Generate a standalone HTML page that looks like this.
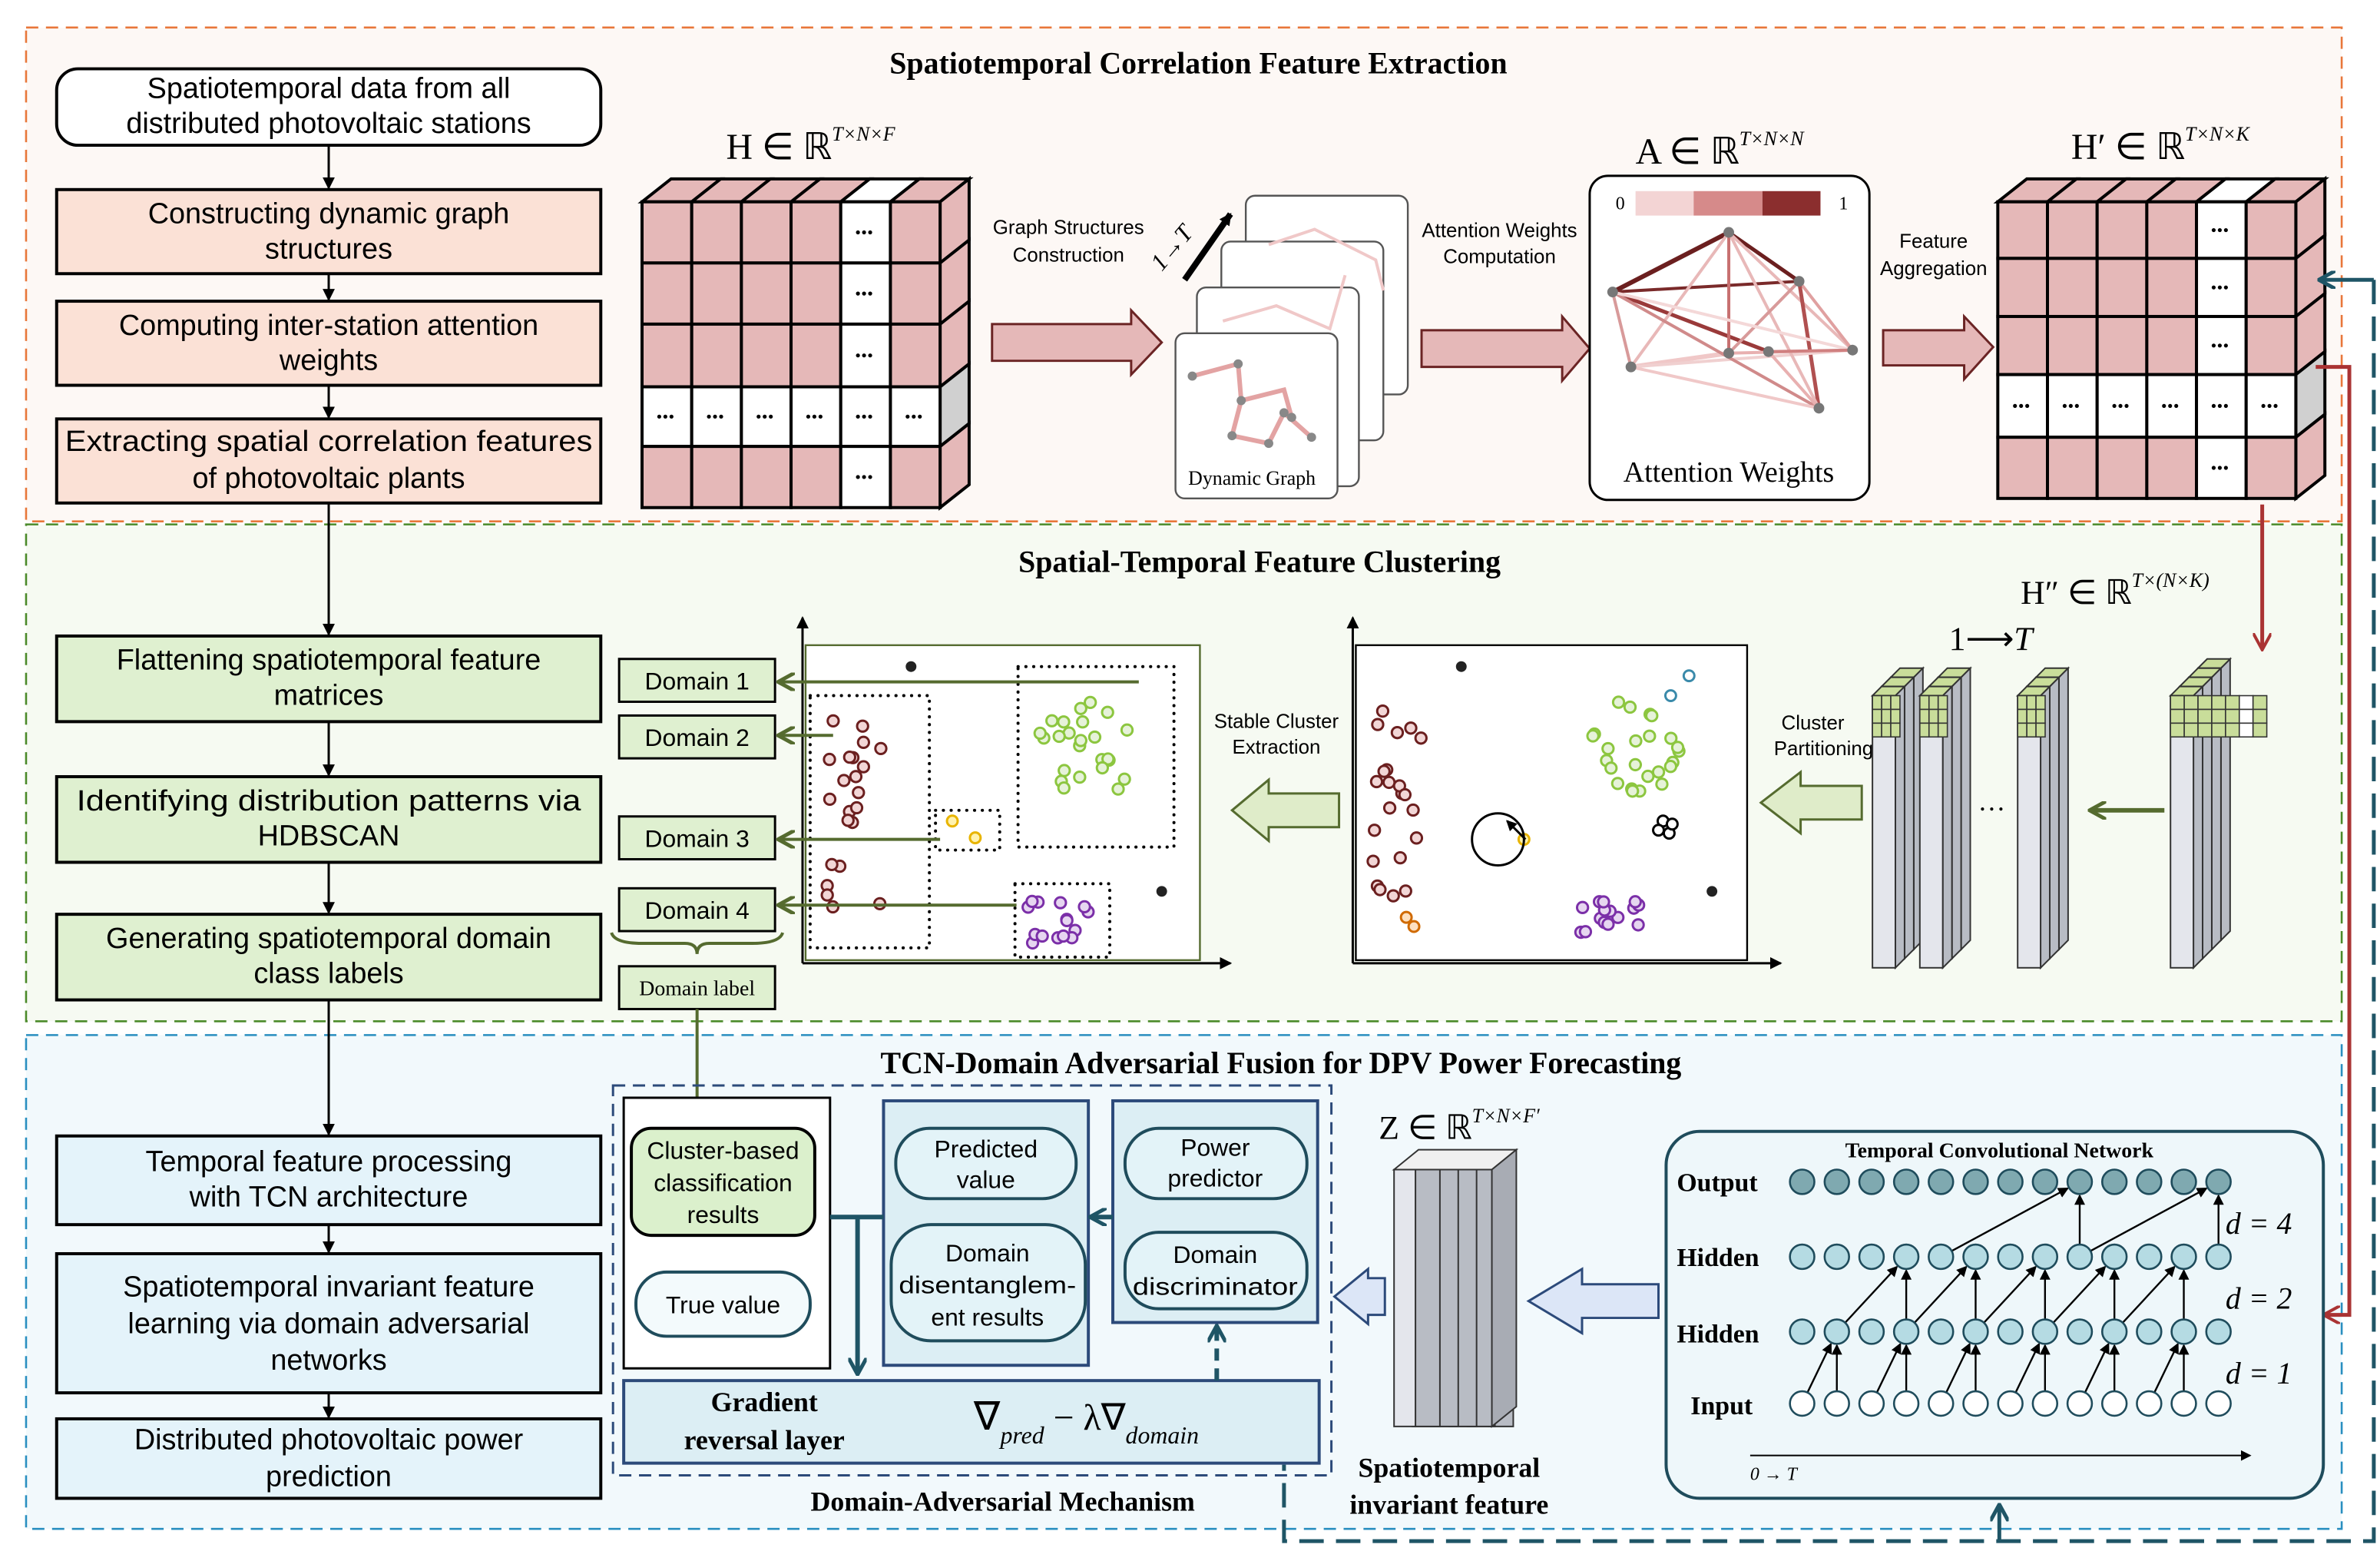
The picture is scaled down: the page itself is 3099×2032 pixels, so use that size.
<!DOCTYPE html>
<html><head><meta charset="utf-8"><style>
html,body{margin:0;padding:0;background:#fff}
svg{display:block}
.t{font-family:"Liberation Sans",sans-serif;fill:#000}
.s{font-family:"Liberation Serif",serif;fill:#000}
</style></head><body>
<svg id="sv" width="3099" height="2032" viewBox="0 0 1557 1021" xmlns="http://www.w3.org/2000/svg">
<defs>
<marker id="ah" markerWidth="8" markerHeight="8" refX="7" refY="4" orient="auto" markerUnits="userSpaceOnUse"><path d="M0,0 L8,4 L0,8 z" fill="#000"/></marker>
<marker id="ahr" markerWidth="12" markerHeight="12" refX="10" refY="6" orient="auto" markerUnits="userSpaceOnUse"><path d="M0,0 L11,6 L0,12" fill="none" stroke="#a33" stroke-width="2"/></marker>
<marker id="aht" markerWidth="12" markerHeight="12" refX="10" refY="6" orient="auto" markerUnits="userSpaceOnUse"><path d="M0,0 L11,6 L0,12" fill="none" stroke="#1f5566" stroke-width="2.5"/></marker>
<marker id="ahg" markerWidth="12" markerHeight="12" refX="10" refY="6" orient="auto" markerUnits="userSpaceOnUse"><path d="M0,0 L11,6 L0,12" fill="none" stroke="#556b2f" stroke-width="2.5"/></marker>
<marker id="ahs" markerWidth="7" markerHeight="7" refX="6" refY="3.5" orient="auto" markerUnits="userSpaceOnUse"><path d="M0,0 L7,3.5 L0,7 z" fill="#000"/></marker>
</defs>
<!-- panels -->
<rect x="17" y="18" width="1515" height="323" fill="#fdf8f5" stroke="#e8773a" stroke-width="1.3" stroke-dasharray="8,5"/>
<rect x="17" y="343" width="1515" height="325" fill="#f6faf2" stroke="#4b8a2a" stroke-width="1.3" stroke-dasharray="8,5"/>
<rect x="17" y="677" width="1515" height="323" fill="#f2f9fc" stroke="#2a8fc0" stroke-width="1.3" stroke-dasharray="8,5"/>
<text class="s" x="784" y="48" font-size="20" font-weight="bold" text-anchor="middle">Spatiotemporal Correlation Feature Extraction</text>
<text class="s" x="824" y="374" font-size="20" font-weight="bold" text-anchor="middle">Spatial-Temporal Feature Clustering</text>
<text class="s" x="838" y="702" font-size="20" font-weight="bold" text-anchor="middle">TCN-Domain Adversarial Fusion for DPV Power Forecasting</text>

<!-- left flow -->
<g stroke="#000" stroke-width="2">
<rect x="37" y="45" width="356" height="50" rx="14" fill="#fff"/>
<rect x="37" y="124" width="356" height="55" fill="#fbe1d6"/>
<rect x="37" y="197" width="356" height="55" fill="#fbe1d6"/>
<rect x="37" y="274" width="356" height="55" fill="#fbe1d6"/>
<rect x="37" y="416" width="356" height="56" fill="#dff0d0"/>
<rect x="37" y="508" width="356" height="56" fill="#dff0d0"/>
<rect x="37" y="598" width="356" height="56" fill="#dff0d0"/>
<rect x="37" y="743" width="356" height="58" fill="#e4f3fa"/>
<rect x="37" y="820" width="356" height="91" fill="#e4f3fa"/>
<rect x="37" y="928" width="356" height="52" fill="#e4f3fa"/>
</g>
<g stroke="#000" stroke-width="1.5" marker-end="url(#ah)">
<line x1="215" y1="95" x2="215" y2="123"/><line x1="215" y1="179" x2="215" y2="196"/>
<line x1="215" y1="252" x2="215" y2="273"/><line x1="215" y1="329" x2="215" y2="415"/>
<line x1="215" y1="472" x2="215" y2="507"/><line x1="215" y1="564" x2="215" y2="597"/>
<line x1="215" y1="654" x2="215" y2="742"/><line x1="215" y1="801" x2="215" y2="819"/>
<line x1="215" y1="911" x2="215" y2="927"/>
</g>
<g class="t" font-size="19" text-anchor="middle">
<text x="215" y="64">Spatiotemporal data from all</text><text x="215" y="87">distributed photovoltaic stations</text>
<text x="215" y="146">Constructing dynamic graph</text><text x="215" y="169">structures</text>
<text x="215" y="219">Computing inter-station attention</text><text x="215" y="242">weights</text>
<text x="215" y="295" textLength="345" lengthAdjust="spacingAndGlyphs">Extracting spatial correlation features</text><text x="215" y="319">of photovoltaic plants</text>
<text x="215" y="438">Flattening spatiotemporal feature</text><text x="215" y="461">matrices</text>
<text x="215" y="530" textLength="330" lengthAdjust="spacingAndGlyphs">Identifying distribution patterns via</text><text x="215" y="553">HDBSCAN</text>
<text x="215" y="620">Generating spatiotemporal domain</text><text x="215" y="643">class labels</text>
<text x="215" y="766">Temporal feature processing</text><text x="215" y="789">with TCN architecture</text>
<text x="215" y="848">Spatiotemporal invariant feature</text><text x="215" y="872">learning via domain adversarial</text><text x="215" y="896">networks</text>
<text x="215" y="948">Distributed photovoltaic power</text><text x="215" y="972">prediction</text>
</g>

<g id="dyn"></g>

<!-- top labels -->
<text class="s" x="475" y="104" font-size="24">H ∈ ℝ<tspan font-size="13" font-style="italic" dy="-12">T×N×F</tspan></text>
<text class="s" x="1070" y="107" font-size="24">A ∈ ℝ<tspan font-size="13" font-style="italic" dy="-12">T×N×N</tspan></text>
<text class="s" x="1355" y="104" font-size="24">H′ ∈ ℝ<tspan font-size="13" font-style="italic" dy="-12">T×N×K</tspan></text>
<text class="t" x="699" y="153" font-size="13" text-anchor="middle">Graph Structures</text>
<text class="t" x="699" y="171" font-size="13" text-anchor="middle">Construction</text>
<text class="t" x="981" y="155" font-size="13" text-anchor="middle">Attention Weights</text>
<text class="t" x="981" y="172" font-size="13" text-anchor="middle">Computation</text>
<text class="t" x="1265" y="162" font-size="13" text-anchor="middle">Feature</text>
<text class="t" x="1265" y="180" font-size="13" text-anchor="middle">Aggregation</text>
<text class="s" x="760" y="178" font-size="16" font-style="italic" transform="rotate(-50 760 178)">1→T</text>
<line x1="775" y1="183" x2="805" y2="140" stroke="#000" stroke-width="4" marker-end="url(#ah)"/>

<!-- big arrows -->
<g fill="#e5b8b8" stroke="#6b2424" stroke-width="1.5">
<path d="M649,212 L740,212 L740,203 L760,224 L740,245 L740,236 L649,236 z"/>
<path d="M930,216 L1022,216 L1022,207 L1040,228 L1022,249 L1022,240 L930,240 z"/>
<path d="M1232,216 L1285,216 L1285,207 L1304,227 L1285,248 L1285,239 L1232,239 z"/>
</g>

<!-- dynamic graph stack -->
<g stroke="#555" stroke-width="1.2" fill="#fff">
<rect x="815" y="128" width="106" height="130" rx="6"/>
<rect x="799" y="158" width="106" height="130" rx="6"/>
<rect x="783" y="188" width="106" height="130" rx="6"/>
<rect x="769" y="218" width="106" height="108" rx="6"/>
</g>
<g stroke="#e09a9a" stroke-width="3" fill="none" opacity="0.9">
<polyline points="780,246 810,238 812,262 806,285 830,290 840,270 858,286"/>
<polyline points="812,262 840,255 845,273"/>
</g>
<g fill="#888"><circle cx="780" cy="246" r="3"/><circle cx="810" cy="238" r="3"/><circle cx="812" cy="262" r="3"/><circle cx="806" cy="285" r="3"/><circle cx="830" cy="290" r="3"/><circle cx="840" cy="270" r="3"/><circle cx="858" cy="286" r="3"/><circle cx="845" cy="273" r="3"/></g>
<g stroke="#f0c8c8" stroke-width="2" fill="none"><polyline points="800,210 835,200 870,215 880,180"/><polyline points="830,160 860,150 900,170 905,190"/></g>
<text class="s" x="819" y="317" font-size="13" text-anchor="middle">Dynamic Graph</text>

<!-- attention box -->
<rect x="1040" y="115" width="183" height="212" rx="12" fill="#fff" stroke="#000" stroke-width="1.5"/>
<text class="s" x="1060" y="137" font-size="12" text-anchor="middle">0</text>
<text class="s" x="1206" y="137" font-size="12" text-anchor="middle">1</text>
<rect x="1070" y="125" width="38" height="16" fill="#f3d4d4"/>
<rect x="1108" y="125" width="45" height="16" fill="#d68a8a"/>
<rect x="1153" y="125" width="38" height="16" fill="#8b2e2e"/>
<g id="att"></g>
<text class="s" x="1131" y="315" font-size="19" text-anchor="middle">Attention Weights</text>

<!-- H'' label -->
<text class="s" x="1322" y="395" font-size="22">H″ ∈ ℝ<tspan font-size="13" font-style="italic" dy="-11">T×(N×K)</tspan></text>
<text class="s" x="1275" y="425" font-size="22">1⟶<tspan font-style="italic">T</tspan></text>

<!-- red connectors -->
<path d="M1480,330 L1480,424" stroke="#a33" stroke-width="2.5" fill="none" marker-end="url(#ahr)"/>
<path d="M1515,240 L1537,240 L1537,860 L1521,860" stroke="#a33" stroke-width="2.5" fill="none" marker-end="url(#ahr)"/>
<!-- teal dashed loop -->
<path d="M1553,183 L1553,1008 L840,1008 L840,958" stroke="#1f5566" stroke-width="2.5" fill="none" stroke-dasharray="16,8"/>
<path d="M1553,183 L1518,183" stroke="#1f5566" stroke-width="2.5" fill="none" marker-end="url(#aht)"/>
<path d="M1308,1008 L1308,985" stroke="#1f5566" stroke-width="2.5" fill="none" marker-end="url(#aht)"/>

<!-- scatter plots -->
<g stroke="#000" stroke-width="1.5">
<line x1="525" y1="630" x2="805" y2="630" marker-end="url(#ah)"/><line x1="525" y1="630" x2="525" y2="404" marker-end="url(#ah)"/>
<line x1="885" y1="630" x2="1165" y2="630" marker-end="url(#ah)"/><line x1="885" y1="630" x2="885" y2="404" marker-end="url(#ah)"/>
</g>
<rect x="527" y="422" width="258" height="206" fill="#fff" stroke="#556b2f" stroke-width="1.2"/>
<rect x="887" y="422" width="256" height="206" fill="#fff" stroke="#000" stroke-width="1.2"/>
<g fill="none" stroke="#000" stroke-width="2" stroke-dasharray="0.1,5" stroke-linecap="round">
<rect x="530" y="455" width="78" height="165"/><rect x="666" y="436" width="102" height="118"/>
<rect x="612" y="530" width="42" height="26"/><rect x="664" y="578" width="62" height="48"/>
</g>
<g id="sc"></g>
<circle cx="980" cy="549" r="17" fill="none" stroke="#000" stroke-width="1.5"/>
<line x1="998" y1="549" x2="986" y2="537" stroke="#000" stroke-width="1.5" marker-end="url(#ahs)"/>

<!-- domain boxes -->
<g fill="#dff0d0" stroke="#000" stroke-width="1.5">
<rect x="405" y="431" width="102" height="28"/><rect x="405" y="468" width="102" height="28"/>
<rect x="405" y="534" width="102" height="28"/><rect x="405" y="581" width="102" height="28"/>
<rect x="405" y="632" width="102" height="28"/>
</g>
<g class="t" font-size="16" text-anchor="middle">
<text x="456" y="451">Domain 1</text><text x="456" y="488">Domain 2</text><text x="456" y="554">Domain 3</text><text x="456" y="601">Domain 4</text>
</g>
<text class="s" x="456" y="651" font-size="14" text-anchor="middle">Domain label</text>
<g stroke="#556b2f" stroke-width="2" fill="none" marker-end="url(#ahg)">
<path d="M745,446 L510,446"/><path d="M545,481 L510,481"/><path d="M615,549 L510,549"/><path d="M665,592 L510,592"/>
<path d="M456,660 L456,738"/>
</g>
<path d="M400,610 Q402,617 420,617 L448,617 Q456,617 456,624 Q456,617 464,617 L492,617 Q510,617 512,610" stroke="#556b2f" stroke-width="2" fill="none"/>

<text class="t" x="835" y="476" font-size="13" text-anchor="middle">Stable Cluster</text>
<text class="t" x="835" y="493" font-size="13" text-anchor="middle">Extraction</text>
<text class="t" x="1186" y="477" font-size="13" text-anchor="middle">Cluster</text>
<text class="t" x="1193" y="494" font-size="13" text-anchor="middle">Partitioning</text>
<g fill="#dfecc9" stroke="#556b2f" stroke-width="1.5">
<path d="M876,519 L830,519 L830,510 L806,530 L830,550 L830,541 L876,541 z"/>
<path d="M1218,514 L1178,514 L1178,505 L1152,525 L1178,545 L1178,536 L1218,536 z"/>
</g>
<path d="M1416,530 L1368,530" stroke="#556b2f" stroke-width="3" fill="none" marker-end="url(#ahg)"/>
<text class="s" x="1303" y="530" font-size="18" text-anchor="middle">…</text>

<!-- bottom: domain adversarial -->
<rect x="401" y="710" width="470" height="255" fill="none" stroke="#2c4a7a" stroke-width="1.5" stroke-dasharray="8,5"/>
<rect x="408" y="718" width="135" height="177" fill="#fff" stroke="#000" stroke-width="1.5"/>
<rect x="413" y="738" width="120" height="70" rx="13" fill="#dbf0cc" stroke="#000" stroke-width="2"/>
<rect x="416" y="832" width="114" height="42" rx="20" fill="#f3fafc" stroke="#1f4c5c" stroke-width="2"/>
<rect x="578" y="720" width="134" height="173" fill="#dceef4" stroke="#2c4a7a" stroke-width="2"/>
<rect x="728" y="720" width="134" height="145" fill="#dceef4" stroke="#2c4a7a" stroke-width="2"/>
<rect x="586" y="738" width="118" height="46" rx="22" fill="#e3f3f8" stroke="#1f4c5c" stroke-width="2"/>
<rect x="583" y="801" width="127" height="76" rx="26" fill="#e3f3f8" stroke="#1f4c5c" stroke-width="2"/>
<rect x="736" y="738" width="119" height="46" rx="22" fill="#e3f3f8" stroke="#1f4c5c" stroke-width="2"/>
<rect x="736" y="806" width="119" height="50" rx="22" fill="#e3f3f8" stroke="#1f4c5c" stroke-width="2"/>
<rect x="408" y="903" width="455" height="54" fill="#dceef4" stroke="#2c4a7a" stroke-width="2"/>
<g class="t" font-size="16" text-anchor="middle">
<text x="473" y="758">Cluster-based</text><text x="473" y="779">classification</text><text x="473" y="800">results</text>
<text x="473" y="859">True value</text>
<text x="645" y="757">Predicted</text><text x="645" y="777">value</text>
<text x="646" y="825">Domain</text><text x="646" y="846" textLength="116" lengthAdjust="spacingAndGlyphs">disentanglem-</text><text x="646" y="867">ent results</text>
<text x="795" y="756">Power</text><text x="795" y="776">predictor</text>
<text x="795" y="826">Domain</text><text x="795" y="847" textLength="108" lengthAdjust="spacingAndGlyphs">discriminator</text>
</g>
<text class="s" x="500" y="923" font-size="18" font-weight="bold" text-anchor="middle">Gradient</text>
<text class="s" x="500" y="948" font-size="18" font-weight="bold" text-anchor="middle">reversal layer</text>
<text class="s" x="637" y="935" font-size="26">∇<tspan font-size="16" font-style="italic" dy="9">pred</tspan><tspan font-size="24" dy="-9"> − λ∇</tspan><tspan font-size="16" font-style="italic" dy="9">domain</tspan></text>
<text class="s" x="656" y="988" font-size="18" font-weight="bold" text-anchor="middle">Domain-Adversarial Mechanism</text>
<g stroke="#1f5566" stroke-width="3" fill="none">
<path d="M543,796 L578,796"/><path d="M561,796 L561,898" marker-end="url(#aht)"/>
<path d="M728,796 L714,796" marker-end="url(#aht)"/>
<path d="M796,903 L796,868" stroke-dasharray="8,5" marker-end="url(#aht)"/>
</g>

<!-- Z slabs -->
<text class="s" x="902" y="745" font-size="22">Z ∈ ℝ<tspan font-size="13" font-style="italic" dy="-11">T×N×F′</tspan></text>
<g id="zs"></g>
<text class="s" x="948" y="966" font-size="18" font-weight="bold" text-anchor="middle">Spatiotemporal</text>
<text class="s" x="948" y="990" font-size="18" font-weight="bold" text-anchor="middle">invariant feature</text>
<g fill="#dce6f7" stroke="#2c4a7a" stroke-width="1.5">
<path d="M1085,840 L1035,840 L1035,830 L1000,851 L1035,872 L1035,862 L1085,862 z"/>
<path d="M906,836 L895,836 L895,830 L873,848 L895,866 L895,860 L906,860 z"/>
</g>

<!-- TCN -->
<rect x="1090" y="740" width="430" height="240" rx="22" fill="#eef7fa" stroke="#1f4c5c" stroke-width="2"/>
<text class="s" x="1308" y="757" font-size="14" font-weight="bold" text-anchor="middle">Temporal Convolutional Network</text>
<g class="s" font-size="17" font-weight="bold">
<text x="1097" y="779">Output</text><text x="1097" y="828">Hidden</text><text x="1097" y="878">Hidden</text><text x="1106" y="925">Input</text>
</g>
<g class="s" font-size="20" font-style="italic"><text x="1456" y="807">d = 4</text><text x="1456" y="856">d = 2</text><text x="1456" y="905">d = 1</text></g>
<g id="tcn"></g>
<line x1="1145" y1="952" x2="1472" y2="952" stroke="#000" stroke-width="1" marker-end="url(#ahs)"/>
<text class="s" x="1145" y="968" font-size="12" font-style="italic">0 → T</text>
</svg>
<script>
(function(){
var NS="http://www.w3.org/2000/svg";
function el(p,t,a){var e=document.createElementNS(NS,t);for(var k in a)e.setAttribute(k,a[k]);p.appendChild(e);return e;}
var dyn=document.getElementById('dyn');
function cube(x,y,cw,rhs,dx,dy,wc,wr){
 var cols=6,H=0;rhs.forEach(function(h){H+=h});
 var W=cw*cols;
 for(var c=0;c<cols;c++){var x0=x+c*cw;el(dyn,'path',{d:'M'+x0+','+y+' L'+(x0+dx)+','+(y-dy)+' L'+(x0+cw+dx)+','+(y-dy)+' L'+(x0+cw)+','+y+'z',fill:c==wc?'#fff':'#e5b8b8',stroke:'#000','stroke-width':2});}
 var yy=y;
 rhs.forEach(function(h,r){
  el(dyn,'path',{d:'M'+(x+W)+','+yy+' L'+(x+W+dx)+','+(yy-dy)+' L'+(x+W+dx)+','+(yy+h-dy)+' L'+(x+W)+','+(yy+h)+'z',fill:r==wr?'#d0d0d0':'#e5b8b8',stroke:'#000','stroke-width':2});
  for(var c=0;c<cols;c++){var w=(c==wc||r==wr);el(dyn,'rect',{x:x+c*cw,y:yy,width:cw,height:h,fill:w?'#fff':'#e5b8b8',stroke:'#000','stroke-width':2});
   if(w){for(var k=0;k<3;k++)el(dyn,'circle',{cx:x+c*cw+cw/2-5+k*4,cy:yy+h/2,r:1.3,fill:'#000'});}}
  yy+=h;});
}
cube(420,132,32.5,[40,40,41,39,40],19,15,4,3);
cube(1307,132,32.5,[37,38,38,41,40],19,15,4,3);
var att=document.getElementById('att');
var P=[[1131,152],[1055,191],[1177,184],[1067,240],[1131,231],[1157,230],[1212,229],[1190,267]];
var E=[[0,1,'#6b1f1f',3],[0,2,'#6b1f1f',2.5],[1,2,'#7a2a2a',2],[1,5,'#9a3a3a',2.5],[1,3,'#d89a9a',2],[0,3,'#e8b8b8',2],[0,4,'#c77070',2],[0,6,'#e8b8b8',2],[2,6,'#e0a0a0',2],[2,7,'#b05050',2.5],[3,4,'#f0c8c8',3],[4,6,'#e8b0b0',2],[3,6,'#f0d0d0',2],[1,7,'#d08a8a',2],[0,7,'#e8b8b8',2],[3,7,'#f0c8c8',2],[5,7,'#e8b0b0',2],[2,4,'#d89a9a',2],[1,6,'#f4d8d8',2],[5,6,'#d08080',2]];
E.forEach(function(e){el(att,'line',{x1:P[e[0]][0],y1:P[e[0]][1],x2:P[e[1]][0],y2:P[e[1]][1],stroke:e[2],'stroke-width':e[3]});});
P.forEach(function(p){el(att,'circle',{cx:p[0],cy:p[1],r:3.5,fill:'#777'});});
var sc=document.getElementById('sc');var s=7;function rnd(){s=(s*9301+49297)%233280;return s/233280;}
function cl(cx,cy,w,h,n,st,fi){for(var i=0;i<n;i++)el(sc,'circle',{cx:cx+(rnd()-.5)*w,cy:cy+(rnd()-.5)*h,r:3.6,fill:fi,stroke:st,'stroke-width':1.5});}
function cls(ox){
 cl(558+ox,530,40,130,22,'#6b1f1f','#f2d6d6');
 cl(710+ox,488,60,60,24,'#8cc63f','#e6f2d9');
 cl(694+ox,603,45,28,15,'#7b2fa8','#e6d6f0');
}
cls(0);cls(360);
el(sc,'circle',{cx:623,cy:537,r:3.5,fill:'#fff2b0',stroke:'#e8b400','stroke-width':1.5});
el(sc,'circle',{cx:638,cy:548,r:3.5,fill:'#fff2b0',stroke:'#e8b400','stroke-width':1.5});
el(sc,'circle',{cx:997,cy:549,r:3.5,fill:'#fff2b0',stroke:'#e8b400','stroke-width':1.5});
[[1088,537],[1092,545],[1085,543],[1094,539]].forEach(function(p){el(sc,'circle',{cx:p[0],cy:p[1],r:3.5,fill:'#fff',stroke:'#000','stroke-width':1.5});});
[[920,600],[925,606]].forEach(function(p){el(sc,'circle',{cx:p[0],cy:p[1],r:3.5,fill:'#fde0c0',stroke:'#d06a00','stroke-width':1.5});});
[[1093,455],[1105,442]].forEach(function(p){el(sc,'circle',{cx:p[0],cy:p[1],r:3.5,fill:'#fff',stroke:'#3a8aaa','stroke-width':1.5});});
[[596,436],[760,583],[956,436],[1120,583]].forEach(function(p){el(sc,'circle',{cx:p[0],cy:p[1],r:3.5,fill:'#222'});});
function slab(g,x,y,w,h,dx,dy,top){
 el(g,'path',{d:'M'+(x+w)+','+y+' L'+(x+w+dx)+','+(y-dy)+' L'+(x+w+dx)+','+(y+h-dy)+' L'+(x+w)+','+(y+h)+'z',fill:'#b8bcc4',stroke:'#333','stroke-width':1});
 el(g,'rect',{x:x,y:y,width:w,height:h,fill:'#e4e6ec',stroke:'#333','stroke-width':1});
 el(g,'path',{d:'M'+x+','+y+' L'+(x+dx)+','+(y-dy)+' L'+(x+w+dx)+','+(y-dy)+' L'+(x+w)+','+y+'z',fill:top,stroke:'#333','stroke-width':1});
}
var mid=el(document.getElementById('sv'),'g',{});
function gcube(g,x,y,n){
 for(var r=0;r<3;r++)for(var c=0;c<n;c++)el(g,'rect',{x:x+c*6,y:y+r*9,width:6,height:9,fill:'#c9dd9a',stroke:'#333','stroke-width':0.8});
}
[[1225,1],[1256,1],[1320,1]].forEach(function(a){
 var x=a[0];
 for(var k=2;k>=0;k--){slab(mid,x+k*6,455-k*6,15,178,6,6,'#c9dd9a');}
 gcube(mid,x,455,3);
});
for(var k=3;k>=0;k--){slab(mid,1420+k*6,455-k*6,15,178,6,6,'#c9dd9a');}
for(var r=0;r<3;r++)for(var c=0;c<7;c++){var wh=(c==5);el(mid,'rect',{x:1420+c*9,y:455+r*9,width:9,height:9,fill:wh?'#fff':'#c9dd9a',stroke:'#333','stroke-width':0.8});}
var zs=document.getElementById('zs');
for(var k=4;k>=0;k--){slab(zs,912+k*12,765,14,168,16,-0,'#fff');}
el(zs,'path',{d:'M912,765 L928,752 L992,752 L976,765z',fill:'#f0f0f0',stroke:'#333','stroke-width':1});
el(zs,'path',{d:'M976,765 L992,752 L992,920 L976,933z',fill:'#a8acb4',stroke:'#333','stroke-width':1});
var tg=document.getElementById('tcn');
var xs=[],ys=[918,871,822,773];
for(var i=0;i<13;i++)xs.push(1179+i*22.7);
function ar(x1,y1,x2,y2){var dx=x2-x1,dy=y2-y1,L=Math.sqrt(dx*dx+dy*dy);el(tg,'line',{x1:x1+dx/L*8,y1:y1+dy/L*8,x2:x2-dx/L*9,y2:y2-dy/L*9,stroke:'#000','stroke-width':1.2,'marker-end':'url(#ahs)'});}
for(var i=1;i<13;i+=2){ar(xs[i],ys[0],xs[i],ys[1]);ar(xs[i-1],ys[0],xs[i],ys[1]);}
[3,5,7,9,11].forEach(function(i){ar(xs[i],ys[1],xs[i],ys[2]);ar(xs[i-2],ys[1],xs[i],ys[2]);});
ar(xs[4],ys[2],xs[8],ys[3]);ar(xs[8],ys[2],xs[8],ys[3]);ar(xs[8],ys[2],xs[12],ys[3]);ar(xs[12],ys[2],xs[12],ys[3]);
for(var r=0;r<4;r++)for(var i=0;i<13;i++)el(tg,'circle',{cx:xs[i],cy:ys[r],r:8,fill:r==0?'#fff':(r==3?'#7fa9b0':'#b5dbe3'),stroke:'#1f4c5c','stroke-width':1.3});
})();
</script>
</body></html>
